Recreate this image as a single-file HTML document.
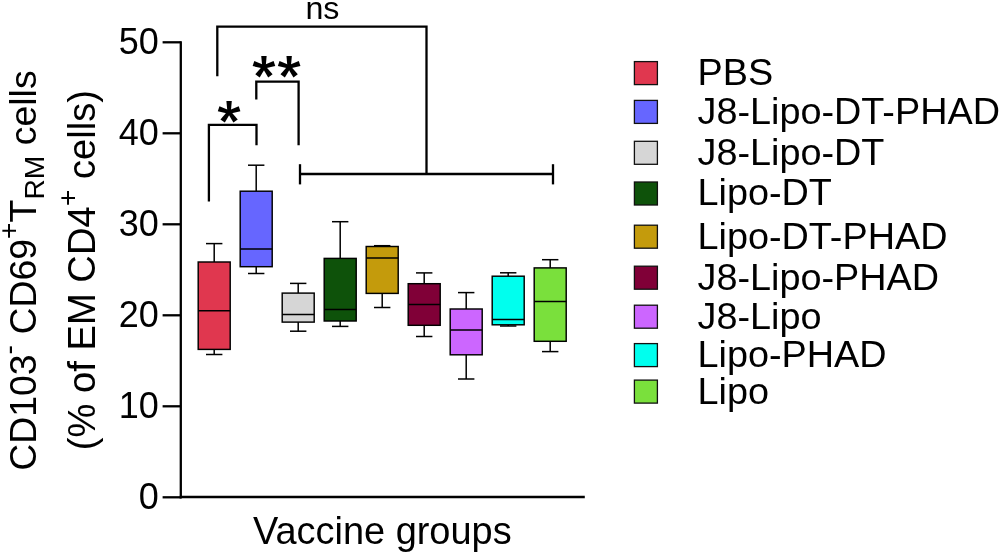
<!DOCTYPE html>
<html><head><meta charset="utf-8"><style>
html,body{margin:0;padding:0;background:#fff;}
body{width:1000px;height:554px;overflow:hidden;}
svg{display:block;will-change:transform;}
text{font-family:"Liberation Sans",sans-serif;fill:#000;stroke:none;}
.tl{font-size:36px;}
.lg{font-size:37.8px;}
.xt{font-size:37.8px;}
.yt{font-size:38.2px;}
.st{font-family:"Liberation Sans",sans-serif;font-weight:bold;font-size:58px;}
</style></head><body>
<svg width="1000" height="554" viewBox="0 0 1000 554">
<g stroke="#000" fill="none" stroke-width="2.3">
<line x1="180.8" y1="41.2" x2="180.8" y2="498.4"/>
<line x1="179.7" y1="497.0" x2="584.8" y2="497.0"/>
<line x1="162.6" y1="497.3" x2="180.8" y2="497.3"/>
<text x="158.8" y="509.1" text-anchor="end" class="tl">0</text>
<line x1="162.6" y1="406.3" x2="180.8" y2="406.3"/>
<text x="158.8" y="418.1" text-anchor="end" class="tl">10</text>
<line x1="162.6" y1="315.3" x2="180.8" y2="315.3"/>
<text x="158.8" y="327.1" text-anchor="end" class="tl">20</text>
<line x1="162.6" y1="224.3" x2="180.8" y2="224.3"/>
<text x="158.8" y="236.1" text-anchor="end" class="tl">30</text>
<line x1="162.6" y1="133.3" x2="180.8" y2="133.3"/>
<text x="158.8" y="145.1" text-anchor="end" class="tl">40</text>
<line x1="162.6" y1="42.3" x2="180.8" y2="42.3"/>
<text x="158.8" y="54.1" text-anchor="end" class="tl">50</text>
<!-- ns bracket -->
<polyline points="217.3,76.3 217.3,26.6 426.5,26.6 426.5,174.0"/>
<!-- ** bracket -->
<polyline points="256.3,99.5 256.3,81.6 298.6,81.6 298.6,145.2"/>
<!-- * bracket -->
<polyline points="208.9,201.6 208.9,124.8 256.5,124.8 256.5,145.2"/>
<!-- horizontal bracket -->
<line x1="300.0" y1="174.0" x2="553.0" y2="174.0"/>
<line x1="300.0" y1="164.2" x2="300.0" y2="184.4"/>
<line x1="553.0" y1="164.2" x2="553.0" y2="184.4"/>
</g>
<g stroke="#000">
<line x1="214.2" y1="243.6" x2="214.2" y2="262.0" stroke-width="1.5"/>
<line x1="214.2" y1="349.4" x2="214.2" y2="354.5" stroke-width="1.5"/>
<line x1="206.00" y1="243.6" x2="222.40" y2="243.6" stroke-width="1.5"/>
<line x1="206.00" y1="354.5" x2="222.40" y2="354.5" stroke-width="1.5"/>
<rect x="198.20" y="262.0" width="32.00" height="87.40" fill="#E0374F" stroke-width="1.45"/>
<line x1="198.20" y1="310.8" x2="230.20" y2="310.8" stroke-width="1.45"/>
<line x1="256.2" y1="165.2" x2="256.2" y2="191.2" stroke-width="1.5"/>
<line x1="256.2" y1="266.7" x2="256.2" y2="273.5" stroke-width="1.5"/>
<line x1="248.00" y1="165.2" x2="264.40" y2="165.2" stroke-width="1.5"/>
<line x1="248.00" y1="273.5" x2="264.40" y2="273.5" stroke-width="1.5"/>
<rect x="240.20" y="191.2" width="32.00" height="75.50" fill="#6666FF" stroke-width="1.45"/>
<line x1="240.20" y1="249.0" x2="272.20" y2="249.0" stroke-width="1.45"/>
<line x1="298.2" y1="283.4" x2="298.2" y2="293.1" stroke-width="1.5"/>
<line x1="298.2" y1="322.1" x2="298.2" y2="331.2" stroke-width="1.5"/>
<line x1="290.00" y1="283.4" x2="306.40" y2="283.4" stroke-width="1.5"/>
<line x1="290.00" y1="331.2" x2="306.40" y2="331.2" stroke-width="1.5"/>
<rect x="282.20" y="293.1" width="32.00" height="29.00" fill="#D6D6D6" stroke-width="1.45"/>
<line x1="282.20" y1="314.5" x2="314.20" y2="314.5" stroke-width="1.45"/>
<line x1="340.2" y1="221.7" x2="340.2" y2="258.4" stroke-width="1.5"/>
<line x1="340.2" y1="321.0" x2="340.2" y2="326.4" stroke-width="1.5"/>
<line x1="332.00" y1="221.7" x2="348.40" y2="221.7" stroke-width="1.5"/>
<line x1="332.00" y1="326.4" x2="348.40" y2="326.4" stroke-width="1.5"/>
<rect x="324.20" y="258.4" width="32.00" height="62.60" fill="#0E520A" stroke-width="1.45"/>
<line x1="324.20" y1="309.4" x2="356.20" y2="309.4" stroke-width="1.45"/>
<line x1="382.2" y1="245.7" x2="382.2" y2="246.5" stroke-width="1.5"/>
<line x1="382.2" y1="293.4" x2="382.2" y2="307.5" stroke-width="1.5"/>
<line x1="374.00" y1="245.7" x2="390.40" y2="245.7" stroke-width="1.5"/>
<line x1="374.00" y1="307.5" x2="390.40" y2="307.5" stroke-width="1.5"/>
<rect x="366.20" y="246.5" width="32.00" height="46.90" fill="#C49B0C" stroke-width="1.45"/>
<line x1="366.20" y1="258.0" x2="398.20" y2="258.0" stroke-width="1.45"/>
<line x1="424.2" y1="272.9" x2="424.2" y2="283.7" stroke-width="1.5"/>
<line x1="424.2" y1="325.3" x2="424.2" y2="336.5" stroke-width="1.5"/>
<line x1="416.00" y1="272.9" x2="432.40" y2="272.9" stroke-width="1.5"/>
<line x1="416.00" y1="336.5" x2="432.40" y2="336.5" stroke-width="1.5"/>
<rect x="408.20" y="283.7" width="32.00" height="41.60" fill="#800037" stroke-width="1.45"/>
<line x1="408.20" y1="304.4" x2="440.20" y2="304.4" stroke-width="1.45"/>
<line x1="466.2" y1="292.6" x2="466.2" y2="309.0" stroke-width="1.5"/>
<line x1="466.2" y1="354.8" x2="466.2" y2="379.0" stroke-width="1.5"/>
<line x1="458.00" y1="292.6" x2="474.40" y2="292.6" stroke-width="1.5"/>
<line x1="458.00" y1="379.0" x2="474.40" y2="379.0" stroke-width="1.5"/>
<rect x="450.20" y="309.0" width="32.00" height="45.80" fill="#CC66FF" stroke-width="1.45"/>
<line x1="450.20" y1="330.0" x2="482.20" y2="330.0" stroke-width="1.45"/>
<line x1="508.2" y1="272.8" x2="508.2" y2="276.2" stroke-width="1.5"/>
<line x1="508.2" y1="324.8" x2="508.2" y2="326.0" stroke-width="1.5"/>
<line x1="500.00" y1="272.8" x2="516.40" y2="272.8" stroke-width="1.5"/>
<line x1="500.00" y1="326.0" x2="516.40" y2="326.0" stroke-width="1.5"/>
<rect x="492.20" y="276.2" width="32.00" height="48.60" fill="#00FFEE" stroke-width="1.45"/>
<line x1="492.20" y1="319.4" x2="524.20" y2="319.4" stroke-width="1.45"/>
<line x1="550.2" y1="259.7" x2="550.2" y2="267.9" stroke-width="1.5"/>
<line x1="550.2" y1="341.3" x2="550.2" y2="351.6" stroke-width="1.5"/>
<line x1="542.00" y1="259.7" x2="558.40" y2="259.7" stroke-width="1.5"/>
<line x1="542.00" y1="351.6" x2="558.40" y2="351.6" stroke-width="1.5"/>
<rect x="534.20" y="267.9" width="32.00" height="73.40" fill="#7AE03C" stroke-width="1.45"/>
<line x1="534.20" y1="301.4" x2="566.20" y2="301.4" stroke-width="1.45"/>
</g>
<text x="322.4" y="18.7" text-anchor="middle" style="font-size:32.2px">ns</text>
<g fill="#000" stroke="none"><polygon points="265.65,66.90 266.65,55.90 261.25,55.90 262.25,66.90"/><polygon points="264.48,68.52 275.25,66.07 273.58,60.93 263.42,65.28"/><polygon points="262.57,67.90 268.23,77.39 272.60,74.21 265.33,65.90"/><polygon points="262.57,65.90 255.30,74.21 259.67,77.39 265.33,67.90"/><polygon points="264.48,65.28 254.32,60.93 252.65,66.07 263.42,68.52"/></g><g fill="#000" stroke="none"><polygon points="290.85,66.90 291.85,55.90 286.45,55.90 287.45,66.90"/><polygon points="289.68,68.52 300.45,66.07 298.78,60.93 288.62,65.28"/><polygon points="287.77,67.90 293.43,77.39 297.80,74.21 290.53,65.90"/><polygon points="287.77,65.90 280.50,74.21 284.87,77.39 290.53,67.90"/><polygon points="289.68,65.28 279.52,60.93 277.85,66.07 288.62,68.52"/></g><g fill="#000" stroke="none"><polygon points="230.80,112.10 231.80,101.10 226.40,101.10 227.40,112.10"/><polygon points="229.63,113.72 240.40,111.27 238.73,106.13 228.57,110.48"/><polygon points="227.72,113.10 233.38,122.59 237.75,119.41 230.48,111.10"/><polygon points="227.72,111.10 220.45,119.41 224.82,122.59 230.48,113.10"/><polygon points="229.63,110.48 219.47,106.13 217.80,111.27 228.57,113.72"/></g>
<text x="382.3" y="544.3" text-anchor="middle" class="xt" style="font-size:37.95px">Vaccine groups</text>
<g transform="translate(36,270.6) rotate(-90)">
<text x="0" y="0" text-anchor="middle" class="yt" style="font-size:37.4px">CD103<tspan dy="-18" font-size="28.3">-</tspan><tspan dy="18"> CD69</tspan><tspan dy="-18" font-size="28.3">+</tspan><tspan dy="18">T</tspan><tspan dy="8" font-size="28.3">RM</tspan><tspan dy="-8"> cells</tspan></text>
</g>
<g transform="translate(95,270.1) rotate(-90)">
<text x="0" y="0" text-anchor="middle" class="yt">(% of EM CD4<tspan dy="-18" font-size="28.5">+</tspan><tspan dy="18"> cells)</tspan></text>
</g>
<rect x="634.4" y="61.6" width="23.0" height="23.0" fill="#E0374F" stroke="#111" stroke-width="1.3"/>
<text x="697.5" y="85.0" class="lg">PBS</text>
<rect x="634.4" y="100.4" width="23.0" height="23.0" fill="#6666FF" stroke="#111" stroke-width="1.3"/>
<text x="697.5" y="123.8" class="lg">J8-Lipo-DT-PHAD</text>
<rect x="634.4" y="141.3" width="23.0" height="23.0" fill="#D6D6D6" stroke="#111" stroke-width="1.3"/>
<text x="697.5" y="164.7" class="lg">J8-Lipo-DT</text>
<rect x="634.4" y="182.0" width="23.0" height="23.0" fill="#0E520A" stroke="#111" stroke-width="1.3"/>
<text x="697.5" y="205.4" class="lg">Lipo-DT</text>
<rect x="634.4" y="225.2" width="23.0" height="23.0" fill="#C49B0C" stroke="#111" stroke-width="1.3"/>
<text x="697.5" y="248.6" class="lg">Lipo-DT-PHAD</text>
<rect x="634.4" y="266.2" width="23.0" height="23.0" fill="#800037" stroke="#111" stroke-width="1.3"/>
<text x="697.5" y="289.6" class="lg">J8-Lipo-PHAD</text>
<rect x="634.4" y="305.2" width="23.0" height="23.0" fill="#CC66FF" stroke="#111" stroke-width="1.3"/>
<text x="697.5" y="328.6" class="lg">J8-Lipo</text>
<rect x="634.4" y="343.6" width="23.0" height="23.0" fill="#00FFEE" stroke="#111" stroke-width="1.3"/>
<text x="697.5" y="367.0" class="lg">Lipo-PHAD</text>
<rect x="634.4" y="380.1" width="23.0" height="23.0" fill="#7AE03C" stroke="#111" stroke-width="1.3"/>
<text x="697.5" y="403.5" class="lg">Lipo</text>
</svg>
</body></html>
